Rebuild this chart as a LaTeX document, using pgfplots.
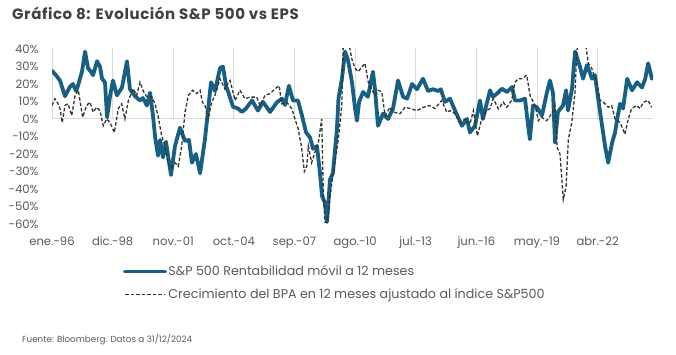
\documentclass[border=0pt]{standalone}
\usepackage{pgfplots}
\pgfplotsset{compat=1.18}
\usepackage{fontspec}
\setmainfont{Poppins}
\newfontfamily\titlefont[LetterSpace=4]{Poppins}
\definecolor{spblue}{RGB}{23,96,131}
\definecolor{txt}{RGB}{89,89,89}
\definecolor{ttl}{RGB}{64,64,64}
\begin{document}
\begin{tikzpicture}[x=1pt,y=1pt]
\useasboundingbox (0,0) rectangle (676,355);
\node[anchor=base west, inner sep=0pt, font=\titlefont\fontsize{15}{16}\selectfont\bfseries, text=ttl] at (12,335) {Gráfico 8: Evolución S\&P 500 vs EPS};
\node[anchor=base west, inner sep=0pt, font=\fontsize{8.8}{10}\selectfont, text=txt] at (22,12) {Fuente: Bloomberg. Datos a 31/12/2024};
\begin{axis}[at={(52pt,131pt)}, anchor=south west, scale only axis, width=601pt, height=175pt,
 xmin=0, xmax=347, ymin=-60, ymax=40, clip=true,
 axis line style={draw=none}, tick style={draw=none},
 ytick={-60,-50,...,40}, yticklabel={\pgfmathprintnumber{\tick}\%},
 xtick={0,35,...,315},
 xticklabels={ene.-96,dic.-98,nov.-01,oct.-04,sep.-07,ago.-10,jul.-13,jun.-16,may.-19,abr.-22},
 ticklabel style={font=\fontsize{11.6}{12}\selectfont, text=txt},
 /pgf/number format/assume math mode=true,
 yticklabel style={xshift=-10pt},
 xticklabel style={yshift=-9pt},
 extra y ticks={0}, extra y tick labels={},
 extra y tick style={grid=major, major grid style={black!15, line width=1pt}},
 legend style={at={(axis description cs:0.118,-0.229)}, anchor=north west, draw=none, fill=none,
   font=\fontsize{12.7}{13.5}\selectfont, text=txt, row sep=8.5pt, inner sep=0pt,
   nodes={inner sep=1.5pt}},
 legend cell align=left,
 legend image code/.code={\draw[#1] (0pt,0pt) -- (40pt,0pt);},
]
\pgfplotsinvokeforeach{0,35,...,315}{\draw[black!15, line width=0.8pt] (axis cs:#1,0) -- ++(0,-4.5pt);}
\addplot[spblue, line width=3.8pt, line join=round, line cap=round] coordinates {
(0,27.6)(2.3,25)(4.6,22)(7.5,13)(10.4,18.5)(12.1,20)(13.9,16)(15,19)(17.3,27)(19.1,38.5)(20.8,29)(22.5,27)(23.7,25)(26,33)(27.7,30)(28.9,23)(30.6,21)(31.8,1)(33.5,13)(35.2,22)(37.5,13.5)(40.4,18)(43.3,33)(45,17)(47.9,13)(50.8,10.6)(52.5,12)(54.8,7.7)(56.6,15)(58.3,2)(59.5,-10)(61.2,-21)(62.4,-12)(64.1,-22)(65.8,-13)(68.7,-32)(71,-15.5)(73.9,-5)(76.8,-12.5)(79.1,-12)(80.8,-25)(83.1,-20)(85.5,-31)(88.3,-11.6)(91.8,21)(94.1,16)(97,29)(98.7,30)(100.5,19)(102.2,14)(104.5,7)(107.4,6)(109.7,4)(112,6)(115.5,10.6)(118.9,4.8)(121.8,9.8)(125.9,4)(129.9,9.6)(132.8,11.6)(134.5,8)(136.8,19)(139.1,10.6)(142,10.6)(144.3,2)(146.7,-7.7)(149,-10.6)(150.7,-17)(153,-15.5)(154.7,-30.8)(155.9,-44)(157.6,-48)(158.8,-58.8)(160.5,-34.7)(162.2,-30.8)(164.5,-5.8)(165.4,11.6)(167.4,23)(169.2,38.5)(170.9,33.7)(173.2,21)(175,5.8)(176.1,-1)(177.3,9.8)(179.6,15.4)(182.4,12.7)(185.3,27)(186.5,17)(188.2,-3.9)(191.1,3)(194,0)(196.9,6)(199.8,22)(202.7,12.7)(205,11.6)(207.9,20)(210.7,17)(214.2,23)(217.1,16)(220,17)(222.9,16)(224.5,17)(226.9,9.8)(229.8,11.6)(232.7,4.8)(236.7,-3.9)(239.6,0)(241.3,-7.7)(244.2,-3.9)(247.1,10.6)(248.8,0)(252.9,16.4)(254.6,12.7)(256.9,14.5)(259.8,17.3)(262.7,15.4)(265.6,18.3)(267.3,10.6)(270.2,10.6)(273.1,11.6)(274.2,2)(275.9,-11.6)(277.7,7.7)(280,6.7)(282.9,2)(285.8,15.4)(287.5,22)(289.3,14.5)(290.4,-13.5)(292.1,4)(295,7.7)(296.8,16.4)(297.9,4.8)(300.2,17)(302,38.5)(304.8,30)(306.6,23)(308.9,30.8)(311.8,23)(313.5,25)(315.2,12.5)(317.6,-3.9)(319.3,-15.4)(321.1,-25)(323.4,-13.5)(325.1,-7.7)(326.3,0)(328,8.7)(329.7,6)(332.1,23)(334.9,16.4)(337.8,21)(340.7,18)(342.5,23)(344.2,31.8)(346.4,23)(347,24)
};
\addlegendentry{S\&P 500 Rentabilidad móvil a 12 meses}
\addplot[black!80, line width=1.3pt, dash pattern=on 3.5pt off 2pt] coordinates {
(0,7.7)(1.7,11.6)(3.5,8.7)(4.6,6)(5.9,-2)(7.5,7.7)(9.2,8.7)(11.4,2)(13.3,13.5)(15.2,16.4)(17.7,1)(20,7.7)(21.9,9.6)(23.8,3.9)(25.8,6.7)(27.7,4.8)(29.6,-3.9)(31.6,0)(33.5,-2)(36,-7.7)(38.3,6)(40.2,8.7)(42.1,0)(44.1,10.6)(46.9,17.3)(48.9,13.5)(50.8,21)(52.7,16)(54.7,12.7)(57.6,12.7)(59.5,8.7)(61.4,1)(63.3,-9.6)(65.2,-15.4)(67.1,-26)(69.1,-28)(71,-25)(72.9,-27)(74.9,-15.4)(76.8,3.9)(78.7,13.5)(81.2,16.4)(83.5,14.5)(85.5,16.4)(86.8,9.6)(88.3,7.7)(90.2,0)(92.2,9.6)(94.1,13.5)(97,23)(98.9,19)(99.9,17)(101.8,21)(102.8,22)(105.7,10.6)(108.5,16.4)(111.4,11.6)(114.3,12.5)(118.2,12.5)(120.1,7.7)(123,13.5)(125.9,14.5)(128.8,17.3)(131.2,19)(132.6,8.7)(135.5,9.6)(138.4,6)(140.3,0)(142.2,-5.8)(144.2,-17)(145.7,-30)(147.1,-27)(148,-15.4)(149.9,-25)(151.8,-19)(153.8,-13.5)(155.7,0)(156.6,-40)(157.6,-59)(159,-59)(160.5,-44)(162.4,-31)(165.3,-11.6)(167.3,7.7)(168.2,45)(171.1,45)(173,34.7)(174.9,29)(176.8,27)(178.8,29.6)(180.7,31.8)(182.6,21)(184.6,17)(186.5,13.5)(188.4,16.4)(190.4,15.4)(192.3,2)(195.2,6.7)(197.1,4)(200.9,3)(203.8,6.7)(206.7,6)(210.6,4.8)(214.4,6.7)(218.2,7.7)(221.1,6)(225,10.6)(227.9,3.9)(229.8,4.8)(232.7,3)(235.6,-2)(238.5,0)(241.3,-3)(243.3,4.8)(245.6,-9.6)(248.1,0)(251,4.8)(252.9,6)(254.8,11.6)(257.7,5.8)(260.6,9.6)(262.5,6.7)(265.4,10.6)(267.3,21)(269.2,23)(271.2,23)(274.1,25)(276,13.5)(278.9,7.7)(280.8,-1)(282.7,1)(285.6,-1)(288.5,3)(290.4,7.7)(291.7,-16.4)(293.3,-20)(294.3,-33.7)(295.2,-46)(296.8,-38.5)(298.1,-11.6)(300.1,-2)(302,15.4)(303,38.5)(303.9,45)(307.7,45)(309.7,31.8)(311.6,29)(314.5,21)(316.4,10.6)(318.3,9.6)(321.2,6.7)(323.1,7.7)(325.1,0)(328,-2)(330.8,-8.7)(332.7,0)(334.7,6)(337.6,7.7)(339.5,6)(341.5,9.6)(344.2,10.6)(346.2,6.7)
};
\addlegendentry{Crecimiento del BPA en 12 meses ajustado al índice S\&P500}
\end{axis}
\end{tikzpicture}
\end{document}
